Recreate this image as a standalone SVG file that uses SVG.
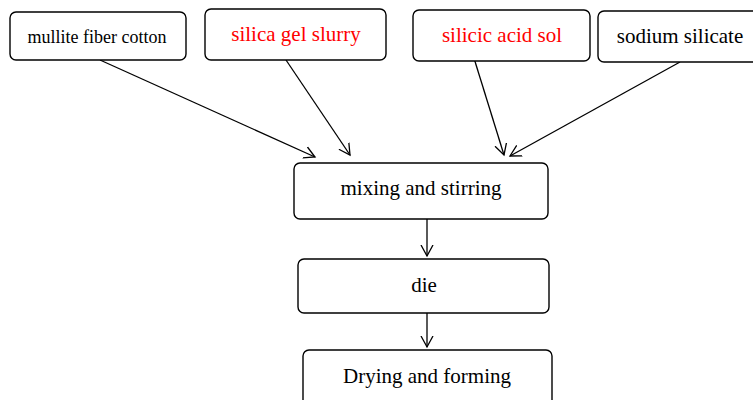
<svg xmlns="http://www.w3.org/2000/svg" width="753" height="400" viewBox="0 0 753 400">
<style>
.box{fill:#fff;stroke:#000;stroke-width:1.4}
.t{font-family:"Liberation Serif","Times New Roman",serif;font-size:21px;fill:#000;text-anchor:middle}
.red{fill:#ff0000}
.c{stroke:#000;stroke-width:1.3;fill:none;marker-end:url(#ah)}
</style>
<defs>
<marker id="ah" markerUnits="userSpaceOnUse" markerWidth="14" markerHeight="14" refX="11" refY="6" orient="auto" viewBox="0 0 14 12">
<path d="M0,0 L11,6 L0,12" fill="none" stroke="#000" stroke-width="1.3"/>
</marker>
</defs>
<rect width="753" height="400" fill="#fff"/>
<g id="connectors">
<line class="c" x1="100" y1="60" x2="315" y2="157"/>
<line class="c" x1="286" y1="60" x2="350" y2="155"/>
<line class="c" x1="473" y1="55" x2="504" y2="155"/>
<line class="c" x1="680" y1="62" x2="510" y2="156"/>
<line class="c" x1="427" y1="219" x2="427" y2="256"/>
<line class="c" x1="427" y1="313" x2="427" y2="347"/>
</g>
<g id="mullite">
<rect class="box" x="10" y="12" width="176" height="48" rx="6"/>
<text class="t" x="97" y="43" style="font-size:18px">mullite fiber cotton</text>
</g>
<g id="silica-gel">
<rect class="box" x="205" y="9" width="181" height="51" rx="6"/>
<text class="t red" x="296" y="41">silica gel slurry</text>
</g>
<g id="silicic-acid">
<rect class="box" x="413" y="10" width="177" height="51" rx="6"/>
<text class="t red" x="502" y="42">silicic acid sol</text>
</g>
<g id="sodium-silicate">
<rect class="box" x="598" y="11" width="165" height="51" rx="6"/>
<text class="t" x="680" y="43">sodium silicate</text>
</g>
<g id="mixing">
<rect class="box" x="294" y="163" width="254" height="56" rx="6"/>
<text class="t" x="421" y="195">mixing and stirring</text>
</g>
<g id="die">
<rect class="box" x="298" y="259" width="251" height="54" rx="6"/>
<text class="t" x="424" y="292">die</text>
</g>
<g id="drying">
<rect class="box" x="303" y="350" width="249" height="60" rx="6"/>
<text class="t" x="427" y="383">Drying and forming</text>
</g>
</svg>
